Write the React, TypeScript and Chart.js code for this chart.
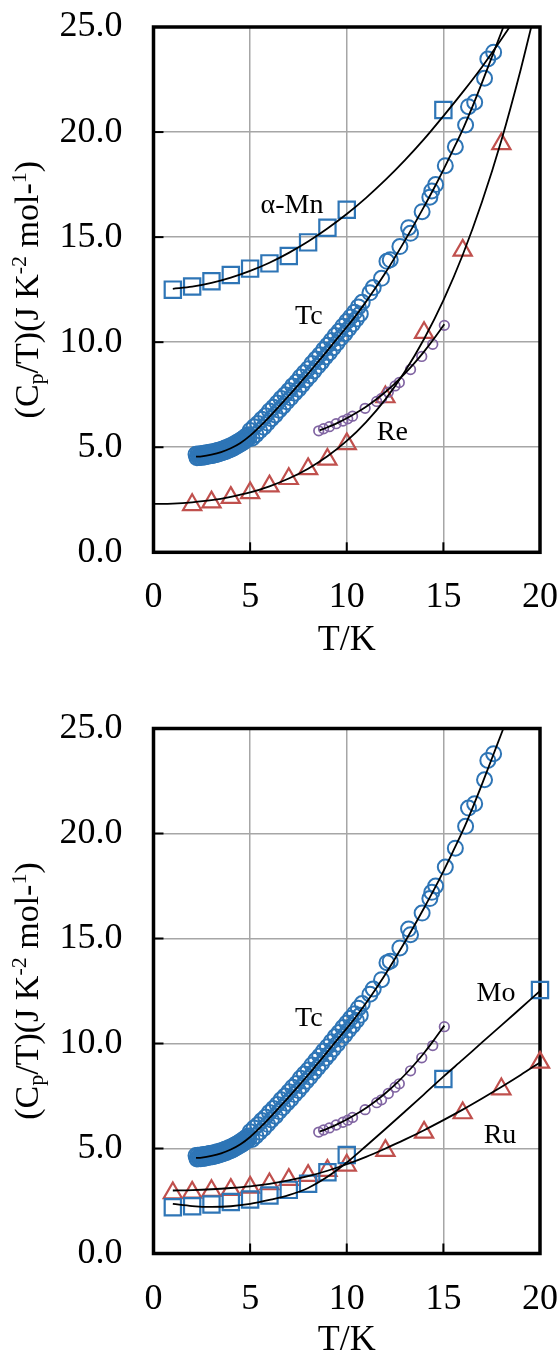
import { useEffect, useRef } from "react";
import { Chart, registerables } from "chart.js";
Chart.register(...registerables);

const FONT = '"Liberation Serif", "Times New Roman", serif';
const BLUE = "#2E75B6";
const RED = "#C0504D";
const PURPLE = "#8064A2";
const GRID = "#A6A6A6";

const xTicks = [0, 5, 10, 15, 20];
const yTicks = [0, 5, 10, 15, 20, 25];
const yTitleSegs: [string, string][] = [
  ["(C", "n"], ["p", "sub"], ["/T)(J K", "n"], ["-2", "sup"], [" mol-", "n"], ["1", "sup"], [")", "n"],
];
const xTitle = "T/K";

type P = [number, number];

// alpha-Mn (squares, top)
const mnPts: P[] = [[1, 12.5], [2, 12.65], [3, 12.9], [4, 13.2], [5, 13.5], [6, 13.75], [7, 14.1], [8, 14.75], [9, 15.45], [10, 16.3], [15, 21.05]];
const mnFit: P[] = [[1, 12.54], [2, 12.64], [3, 12.82], [4, 13.07], [5, 13.39], [6, 13.78], [7, 14.25], [8, 14.79], [9, 15.41], [10, 16.1], [11, 16.87], [12, 17.72], [13, 18.65], [14, 19.66], [15, 20.76], [16, 21.9], [17, 23.1], [17.5, 23.75], [18, 24.42], [18.5, 25.1]];

// Tc (blue circles, both panels)
const tcLowA: P[] = [[2.2, 4.67], [2.3, 4.68], [2.4, 4.68], [2.5, 4.69], [2.6, 4.71], [2.7, 4.72], [2.8, 4.74], [2.9, 4.76], [3.0, 4.77], [3.1, 4.79], [3.2, 4.81], [3.3, 4.84], [3.4, 4.86], [3.5, 4.89], [3.6, 4.92], [3.7, 4.96], [3.8, 4.99], [3.9, 5.03], [4.0, 5.07], [4.1, 5.12], [4.2, 5.17], [4.3, 5.22], [4.4, 5.27], [4.5, 5.33], [4.6, 5.39], [4.7, 5.46], [4.8, 5.53], [4.9, 5.6]];
const tcLowB: P[] = [[2.25, 4.5], [2.35, 4.51], [2.45, 4.51], [2.55, 4.53], [2.65, 4.54], [2.75, 4.56], [2.85, 4.58], [2.95, 4.59], [3.05, 4.61], [3.15, 4.63], [3.25, 4.65], [3.35, 4.68], [3.45, 4.71], [3.55, 4.74], [3.65, 4.77], [3.75, 4.8], [3.85, 4.84], [3.95, 4.88], [4.05, 4.92], [4.15, 4.97], [4.25, 5.02], [4.35, 5.07], [4.45, 5.13], [4.55, 5.18], [4.65, 5.24], [4.75, 5.31], [4.85, 5.38], [4.95, 5.46]];
const tcMidA: P[] = [[5.0, 5.8], [5.2, 5.98], [5.4, 6.13], [5.6, 6.33], [5.8, 6.5], [6.0, 6.72], [6.2, 6.9], [6.4, 7.1], [6.6, 7.32], [6.8, 7.5], [7.0, 7.7], [7.2, 7.92], [7.4, 8.1], [7.6, 8.34], [7.8, 8.55], [8.0, 8.74], [8.2, 8.98], [8.4, 9.2], [8.6, 9.4], [8.8, 9.64], [9.0, 9.85], [9.2, 10.08], [9.4, 10.32], [9.6, 10.52], [9.8, 10.76], [10.0, 10.98], [10.2, 11.2], [10.4, 11.42], [10.6, 11.68], [10.8, 11.9]];
const tcMidB: P[] = [[5.1, 5.43], [5.3, 5.6], [5.5, 5.78], [5.7, 5.95], [5.9, 6.15], [6.1, 6.36], [6.3, 6.54], [6.5, 6.76], [6.7, 6.95], [6.9, 7.16], [7.1, 7.35], [7.3, 7.57], [7.5, 7.76], [7.7, 7.98], [7.9, 8.2], [8.1, 8.4], [8.3, 8.63], [8.5, 8.85], [8.7, 9.06], [8.9, 9.3], [9.1, 9.5], [9.3, 9.74], [9.5, 9.96], [9.7, 10.2], [9.9, 10.4], [10.1, 10.64], [10.3, 10.86], [10.5, 11.1], [10.7, 11.34]];
const tcHigh: P[] = [[11.2, 12.35], [11.37, 12.6], [11.8, 13.04], [12.08, 13.85], [12.25, 13.92], [12.75, 14.55], [13.2, 15.45], [13.3, 15.18], [13.9, 16.21], [14.3, 16.9], [14.4, 17.2], [14.6, 17.5], [15.1, 18.4], [15.62, 19.3], [16.15, 20.34], [16.3, 21.21], [16.62, 21.42], [17.13, 22.56], [17.3, 23.48], [17.6, 23.8]];
const tcFit: P[] = [[2.2, 4.55], [2.5, 4.57], [3, 4.65], [3.5, 4.77], [4, 4.95], [4.5, 5.2], [5, 5.55], [5.5, 5.98], [6, 6.45], [6.5, 6.95], [7, 7.45], [7.5, 7.97], [8, 8.5], [8.5, 9.05], [9, 9.6], [9.5, 10.17], [10, 10.72], [10.5, 11.3], [11, 11.93], [11.5, 12.6], [12, 13.3], [12.5, 14.05], [13, 14.82], [13.5, 15.62], [14, 16.45], [14.5, 17.3], [15, 18.2], [15.5, 19.15], [16, 20.12], [16.5, 21.2], [17, 22.35], [17.5, 23.55], [18, 24.75], [18.5, 25.95]];

// Re (purple small circles, both panels)
const rePts: P[] = [[8.55, 5.78], [8.8, 5.88], [9.1, 5.98], [9.45, 6.12], [9.8, 6.25], [10.05, 6.35], [10.3, 6.48], [10.95, 6.85], [11.55, 7.18], [11.8, 7.32], [12.15, 7.62], [12.5, 7.92], [12.72, 8.08], [13.3, 8.7], [13.88, 9.32], [14.45, 9.9], [15.05, 10.8]];
const reFit: P[] = [[8.6, 5.8], [9, 5.95], [9.5, 6.15], [10, 6.38], [10.5, 6.64], [11, 6.93], [11.5, 7.26], [12, 7.63], [12.5, 8.04], [13, 8.5], [13.5, 9.0], [14, 9.55], [14.5, 10.15], [15.05, 10.85]];

// red triangles (top)
const triPts: P[] = [[2, 2.26], [3, 2.39], [4, 2.6], [5, 2.83], [6, 3.15], [7, 3.5], [8, 3.97], [9, 4.42], [10, 5.16], [12, 7.39], [14, 10.45], [16, 14.37], [18, 19.44]];
const triFit: P[] = [[0, 2.3], [1, 2.32], [2, 2.38], [3, 2.48], [4, 2.64], [5, 2.85], [6, 3.14], [7, 3.51], [8, 3.98], [9, 4.57], [10, 5.3], [11, 6.2], [12, 7.28], [13, 8.59], [14, 10.15], [15, 11.99], [16, 14.15], [17, 16.68], [18, 19.6], [19, 22.97], [19.6, 25.2]];

// Mo (squares, bottom)
const moPts: P[] = [[1, 2.2], [2, 2.25], [3, 2.33], [4, 2.45], [5, 2.57], [6, 2.76], [7, 3.03], [8, 3.32], [9, 3.87], [10, 4.69], [15, 8.31], [20, 12.55]];
const moFit: P[] = [[1, 2.36], [2, 2.26], [3, 2.22], [4, 2.25], [5, 2.36], [6, 2.55], [7, 2.78], [8, 3.12], [9, 3.65], [10, 4.33], [11, 5.12], [12, 5.93], [13, 6.75], [14, 7.58], [15, 8.42], [16, 9.23], [17, 10.05], [18, 10.86], [19, 11.68], [20, 12.5]];

// Ru (triangles, bottom)
const ruPts: P[] = [[1, 2.88], [2, 2.91], [3, 2.99], [4, 3.04], [5, 3.15], [6, 3.31], [7, 3.52], [8, 3.71], [9, 3.95], [10, 4.2], [12, 4.9], [14, 5.77], [16, 6.69], [18, 7.83], [20, 9.1]];
const ruFit: P[] = [[1, 3.0], [2, 3.02], [3, 3.06], [4, 3.12], [5, 3.2], [6, 3.32], [7, 3.48], [8, 3.68], [9, 3.94], [10, 4.25], [11, 4.6], [12, 5.0], [13, 5.42], [14, 5.87], [15, 6.35], [16, 6.85], [17, 7.38], [18, 7.93], [19, 8.5], [20, 9.1]];

type Lbl = { text: string; x: number; y: number };
const topLabels: Lbl[] = [
  { text: "α-Mn", x: 7.17, y: 16.5 },
  { text: "Tc", x: 8.04, y: 11.2 },
  { text: "Re", x: 12.36, y: 5.68 },
];
const botLabels: Lbl[] = [
  { text: "Tc", x: 8.04, y: 11.2 },
  { text: "Mo", x: 17.72, y: 12.36 },
  { text: "Ru", x: 17.93, y: 5.6 },
];

const xy = (a: P[]) => a.map(([x, y]) => ({ x, y }));

const pts = (data: P[], style: string, color: string, r: number, bw: number) => ({
  data: xy(data),
  showLine: false,
  pointStyle: style,
  pointRadius: r,
  pointHoverRadius: r,
  pointBorderColor: color,
  pointBackgroundColor: "rgba(0,0,0,0)",
  pointBorderWidth: bw,
  clip: false,
  order: 2,
});
const fit = (data: P[]) => ({
  data: xy(data),
  showLine: true,
  borderColor: "#000",
  borderWidth: 1.8,
  pointRadius: 0,
  pointHoverRadius: 0,
  cubicInterpolationMode: "monotone",
  fill: false,
  order: 1,
});

const AXIS_W = 153.5;
const PLOT_R = 540;

function decor(labels: Lbl[]) {
  return {
    id: "decor",
    beforeDatasetsDraw(chart: any) {
      const { ctx, chartArea: a, scales } = chart;
      ctx.save();
      ctx.strokeStyle = "#000";
      ctx.lineWidth = 2;
      for (const t of xTicks.slice(1, -1)) {
        const px = scales.x.getPixelForValue(t);
        ctx.beginPath();
        ctx.moveTo(px, a.bottom);
        ctx.lineTo(px, a.bottom - 10);
        ctx.stroke();
      }
      for (const t of yTicks.slice(1, -1)) {
        const py = scales.y.getPixelForValue(t);
        ctx.beginPath();
        ctx.moveTo(a.left, py);
        ctx.lineTo(a.left + 10, py);
        ctx.stroke();
      }
      ctx.lineWidth = 3.5;
      ctx.strokeRect(a.left, a.top, a.right - a.left, a.bottom - a.top);
      ctx.restore();
    },
    afterDraw(chart: any) {
      const { ctx, chartArea: a, scales } = chart;
      ctx.save();
      ctx.fillStyle = "#000";
      ctx.textAlign = "center";
      ctx.textBaseline = "middle";
      ctx.font = `28px ${FONT}`;
      for (const l of labels) {
        ctx.fillText(l.text, scales.x.getPixelForValue(l.x), scales.y.getPixelForValue(l.y));
      }
      // y title with sub/superscripts
      const size = 34;
      const small = Math.round(size * 0.65);
      const fontOf = (k: string) => `${k === "n" ? size : small}px ${FONT}`;
      ctx.textAlign = "left";
      ctx.textBaseline = "alphabetic";
      let total = 0;
      const widths = yTitleSegs.map(([t, k]) => {
        ctx.font = fontOf(k);
        const w = ctx.measureText(t).width;
        total += w;
        return w;
      });
      ctx.translate(38, (a.top + a.bottom) / 2);
      ctx.rotate(-Math.PI / 2);
      let x = -total / 2;
      yTitleSegs.forEach(([t, k], i) => {
        ctx.font = fontOf(k);
        const dy = k === "sub" ? size * 0.14 : k === "sup" ? -size * 0.36 : 0;
        ctx.fillText(t, x, dy);
        x += widths[i];
      });
      ctx.restore();
    },
  };
}

function Panel(props: { height: number; top: number; bottom: number; titlePad: number; datasets: any[]; labels: Lbl[] }) {
  const ref = useRef<HTMLCanvasElement>(null);
  useEffect(() => {
    const { height, top, bottom, titlePad, datasets, labels } = props;
    const chart = new Chart(ref.current as HTMLCanvasElement, {
      type: "scatter",
      data: { datasets },
      options: {
        responsive: false,
        devicePixelRatio: 1,
        animation: false,
        events: [],
        layout: { padding: { left: 0, right: 560 - PLOT_R, top, bottom: 0 } },
        plugins: { legend: { display: false }, tooltip: { enabled: false } },
        scales: {
          x: {
            type: "linear",
            min: 0,
            max: 20,
            afterFit: (s: any) => {
              s.height = height - bottom;
              s.paddingLeft = 0;
              s.paddingRight = 0;
              s.paddingTop = 0;
              s.paddingBottom = 0;
            },
            afterBuildTicks: (s: any) => {
              s.ticks = xTicks.map((v) => ({ value: v }));
            },
            ticks: { font: { family: FONT, size: 36 }, color: "#000", padding: 24, maxRotation: 0, callback: (v: any) => String(v) },
            grid: { color: GRID, lineWidth: 1.5, drawTicks: false },
            border: { display: false },
            title: { display: true, text: xTitle, font: { family: FONT, size: 36 }, color: "#000", padding: { top: 0, bottom: titlePad } },
          },
          y: {
            type: "linear",
            min: 0,
            max: 25,
            afterFit: (s: any) => {
              s.width = AXIS_W;
              s.paddingLeft = 0;
              s.paddingRight = 0;
              s.paddingTop = 0;
              s.paddingBottom = 0;
            },
            afterBuildTicks: (s: any) => {
              s.ticks = yTicks.map((v) => ({ value: v }));
            },
            ticks: { font: { family: FONT, size: 36 }, color: "#000", padding: 31, callback: (v: any) => Number(v).toFixed(1) },
            grid: { color: GRID, lineWidth: 1.5, drawTicks: false },
            border: { display: false },
          },
        },
      } as any,
      plugins: [decor(labels)],
    });
    return () => chart.destroy();
  }, []);
  return <canvas ref={ref} width={560} height={props.height} style={{ display: "block", width: 560, height: props.height }} />;
}

const tcSets = () => [
  pts(tcLowB, "circle", BLUE, 7.5, 2),
  pts(tcLowA, "circle", BLUE, 7.5, 2),
  pts(tcMidB, "circle", BLUE, 7.5, 2),
  pts(tcMidA, "circle", BLUE, 7.5, 2),
  pts(tcHigh, "circle", BLUE, 7.5, 2),
  fit(tcFit),
  pts(rePts, "circle", PURPLE, 4.8, 1.7),
  fit(reFit),
];

export default function App() {
  useEffect(() => {
    document.body.style.margin = "0";
  }, []);
  const topSets = [
    pts(mnPts, "rect", BLUE, 11.5, 2.2),
    fit(mnFit),
    ...tcSets(),
    pts(triPts, "triangle", RED, 10.5, 2.2),
    fit(triFit),
  ];
  const botSets = [
    ...tcSets(),
    pts(moPts, "rect", BLUE, 11.5, 2.2),
    fit(moFit),
    pts(ruPts, "triangle", RED, 10.5, 2.2),
    fit(ruFit),
  ];
  return (
    <div style={{ width: 560, background: "#fff", margin: 0 }}>
      <Panel height={701} top={27} bottom={552.3} titlePad={38.6} datasets={topSets} labels={topLabels} />
      <Panel height={661} top={27.5} bottom={552.5} titlePad={0} datasets={botSets} labels={botLabels} />
    </div>
  );
}
